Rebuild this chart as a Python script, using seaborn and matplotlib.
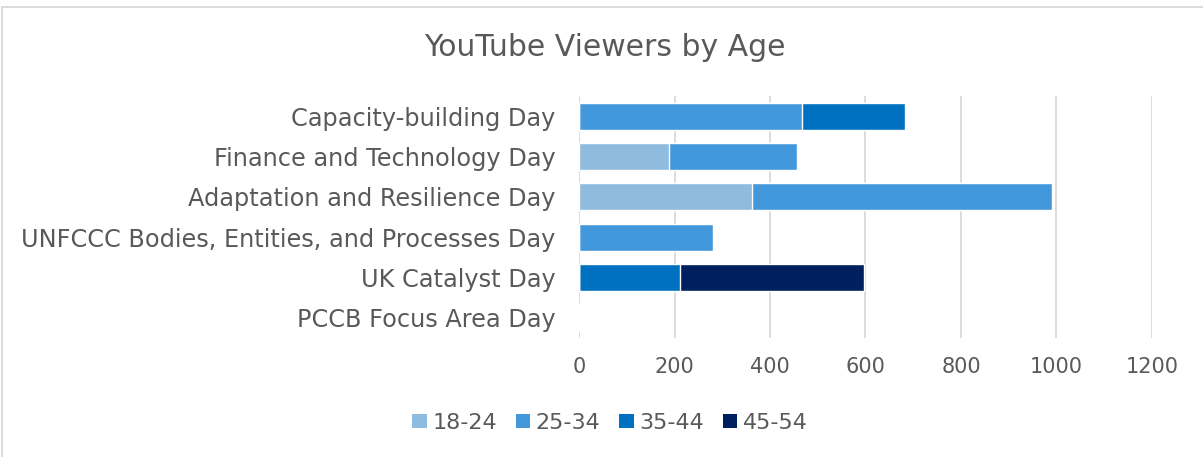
import matplotlib
matplotlib.use("Agg")
import matplotlib.pyplot as plt
from matplotlib.patches import Patch, Rectangle
import numpy as np
import pandas as pd
import seaborn as sns

categories = [
    "Capacity-building Day",
    "Finance and Technology Day",
    "Adaptation and Resilience Day",
    "UNFCCC Bodies, Entities, and Processes Day",
    "UK Catalyst Day",
    "PCCB Focus Area Day",
]
series_names = ["18-24", "25-34", "35-44", "45-54"]
v_18_24 = [0, 189, 363, 0, 0, 0]
v_25_34 = [466, 268, 628, 281, 0, 0]
v_35_44 = [216, 0, 0, 0, 212, 0]
v_45_54 = [0, 0, 0, 0, 385, 0]
colors = ["#8FBBDE", "#4398DB", "#0070C0", "#001F5F"]
x_ticks = [0, 200, 400, 600, 800, 1000, 1200]

sns.set_theme(style="white")
plt.rcParams["font.family"] = ["DejaVu Sans"]
text_color = "#595959"

df = pd.DataFrame({"category": categories, "18-24": v_18_24, "25-34": v_25_34,
                   "35-44": v_35_44, "45-54": v_45_54})
cum = df[series_names].cumsum(axis=1)

fig = plt.figure(figsize=(12.03, 4.57), dpi=100)
ax = fig.add_axes([0.4813, 0.2604, 0.4763, 0.5295])

for name, col in reversed(list(zip(series_names, colors))):
    sns.barplot(x=cum[name], y=df["category"], orient="h", color=col,
                width=0.67, ax=ax, saturation=1, order=categories)

ax.set_xlim(0, 1200)
ax.set_xticks(x_ticks)
ax.set_xticklabels([str(t) for t in x_ticks])
ax.grid(axis="x", color="#d9d9d9", linewidth=1.3)
ax.set_axisbelow(True)
for s in ax.spines.values():
    s.set_visible(False)
ax.set_xlabel("")
ax.set_ylabel("")
ax.tick_params(axis="both", length=0, colors=text_color)
ax.tick_params(axis="x", pad=14, labelsize=15)
ax.tick_params(axis="y", pad=17, labelsize=17.3)

fig.text(0.503, 0.897, "YouTube Viewers by Age", ha="center", va="center",
         fontsize=21.5, color=text_color)

handles = [Patch(facecolor=c, edgecolor="none") for c in colors]
fig.legend(handles, series_names, loc="center", bbox_to_anchor=(0.507, 0.075),
           ncol=4, frameon=False, fontsize=16, handlelength=0.65, handleheight=0.65,
           handletextpad=0.25, columnspacing=0.85, labelcolor=text_color)

fig.patches.append(Rectangle((0.002, -0.01), 1.5, 0.995, transform=fig.transFigure,
                             fill=False, edgecolor="#d9d9d9", linewidth=1.3))

fig.savefig("out.png", dpi=100)
